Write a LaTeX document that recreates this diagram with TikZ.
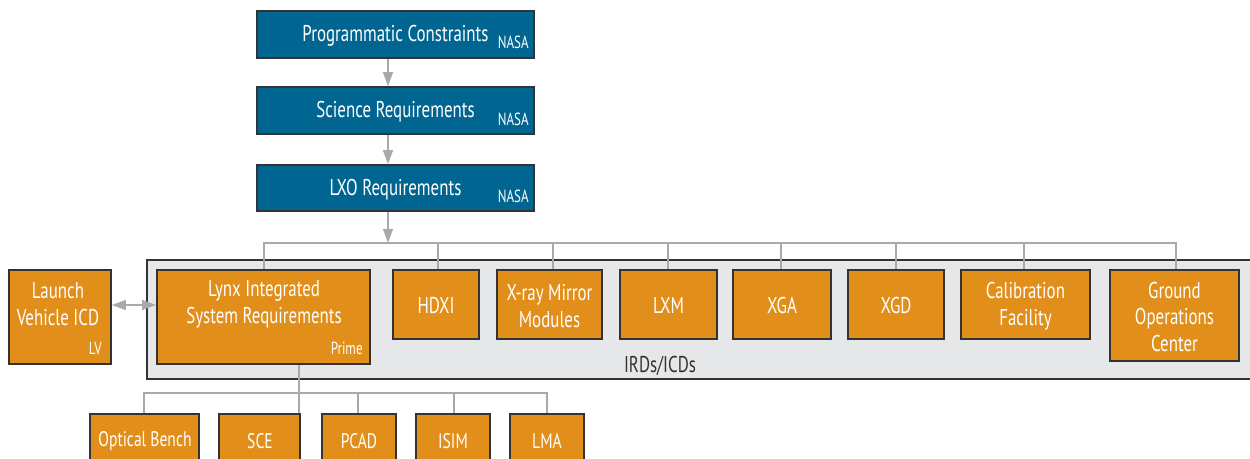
\documentclass[tikz,border=0pt]{standalone}
\usepackage{fontspec}
\setmainfont{PT Sans}[FakeStretch=0.74]
\usetikzlibrary{fit,arrows.meta}
\definecolor{nblue}{HTML}{006691}
\definecolor{norange}{HTML}{E18F1A}
\definecolor{lgray}{HTML}{A7A9AC}
\definecolor{panel}{HTML}{E6E7E8}
\definecolor{edge}{HTML}{333333}
\begin{document}
\begin{tikzpicture}[x=0.02cm,y=-0.02cm,
  bluebox/.style={draw=edge,line width=0.8pt,fill=nblue,inner sep=0pt},
  orbox/.style={draw=edge,line width=0.8pt,fill=norange,inner sep=0pt},
  txt/.style={text=white,font=\fontsize{13}{15.3}\selectfont,align=center,inner sep=0pt,yshift=-0.03cm},
  btxt/.style={txt,font=\fontsize{12}{14}\selectfont},
  tag/.style={text=white,font=\fontsize{10}{11}\selectfont,inner sep=0pt,anchor=base east},
  conn/.style={draw=lgray,line width=1.2pt},
  arr/.style={conn,-{Triangle[width=5.5pt,length=8pt]}},
  darr/.style={conn,{Triangle[width=5.5pt,length=8pt]}-{Triangle[width=5.5pt,length=8pt]}}
]
\useasboundingbox (0,0) rectangle (1250,459);
% panel
\path (147,260) coordinate (pa) (1262,379) coordinate (pb);
\node[fit=(pa)(pb),inner sep=0pt,draw=edge,line width=0.8pt,fill=panel] (panel) {};
\node[text=edge,font=\fontsize{13}{15}\selectfont,inner sep=0pt] (irdlbl) at (660,366) {IRDs/ICDs};
% macro for boxes
\newcommand{\mkbox}[6]{\path (#2,#3) coordinate (#1-a) (#4,#5) coordinate (#1-b);
  \node[fit=(#1-a)(#1-b),#6] (#1) {};}
% connectors top (drawn first so boxes cover their ends)
\coordinate (bus) at (388,243);
\draw[conn] (264,270) |- (1176,243) -- (1176,270);
\foreach \x in {438,553,668,781,896,1024}
  \draw[conn] (\x,270) -- (\x,243);
% blue boxes
\mkbox{pc}{257}{11}{534}{58}{bluebox}
\mkbox{sr}{257}{87}{534}{134}{bluebox}
\mkbox{lxo}{257}{165}{534}{211}{bluebox}
\node[txt] (pct) at (pc.center) {Programmatic Constraints};
\node[txt] (srt) at (sr.center) {Science Requirements};
\node[txt] (lxot) at (lxo.center) {LXO Requirements};
\node[tag] (pcn) at (529,49) {NASA};
\node[tag] (srn) at (529,126) {NASA};
\node[tag] (lxon) at (529,203) {NASA};
% orange boxes row
\mkbox{lv}{9}{270}{111}{364}{orbox}
\mkbox{lynx}{157}{270}{370}{364}{orbox}
\mkbox{hdxi}{393}{270}{479}{339}{orbox}
\mkbox{xmm}{497}{270}{602}{339}{orbox}
\mkbox{lxm}{620}{270}{717}{339}{orbox}
\mkbox{xga}{733}{270}{831}{339}{orbox}
\mkbox{xgd}{848}{270}{944}{339}{orbox}
\mkbox{cal}{961}{270}{1090}{339}{orbox}
\mkbox{goc}{1110}{270}{1239}{361}{orbox}
\node[txt] (lvt) at (58,303) {Launch\\Vehicle ICD};
\node[tag] (lvn) at (102,354) {LV};
\node[txt] (lynxt) at (264,303) {Lynx Integrated\\System Requirements};
\node[tag] (lynxn) at (363,354) {Prime};
\node[txt] (hdxit) at (hdxi.center) {HDXI};
\node[txt] (xmmt) at (xmm.center) {X-ray Mirror\\Modules};
\node[txt] (lxmt) at (lxm.center) {LXM};
\node[txt] (xgat) at (xga.center) {XGA};
\node[txt] (xgdt) at (xgd.center) {XGD};
\node[txt] (calt) at (cal.center) {Calibration\\Facility};
\node[txt] (goct) at (goc.center) {Ground\\Operations\\Center};
% bottom boxes
\mkbox{ob}{90}{414}{199}{470}{orbox}
\mkbox{sce}{219}{414}{300}{470}{orbox}
\mkbox{pcad}{322}{414}{396}{470}{orbox}
\mkbox{isim}{416}{414}{490}{470}{orbox}
\mkbox{lma}{510}{414}{584}{470}{orbox}
\node[btxt] (obt) at (145,440) {Optical Bench};
\node[btxt] (scet) at (260,440) {SCE};
\node[btxt] (pcadt) at (359,440) {PCAD};
\node[btxt] (isimt) at (453,440) {ISIM};
\node[btxt] (lmat) at (547,440) {LMA};
% connectors
\draw[arr] (pc.south -| 388,0) -- (sr.north -| 388,0);
\draw[arr] (sr.south -| 388,0) -- (lxo.north -| 388,0);
\draw[arr] (lxo.south -| 388,0) -- (bus);
\draw[darr] (lv.east |- 0,305) -- (lynx.west |- 0,305);
% bottom connectors
\draw[conn] (lynx.south -| 299,0) -- (sce.north -| 299,0);
\draw[conn] (ob.north -| 144,0) |- (547,393) -- (lma.north -| 547,0);
\foreach \n/\x in {pcad/358,isim/454}
  \draw[conn] (\n.north -| \x,0) -- (\x,393);
\end{tikzpicture}
\end{document}
